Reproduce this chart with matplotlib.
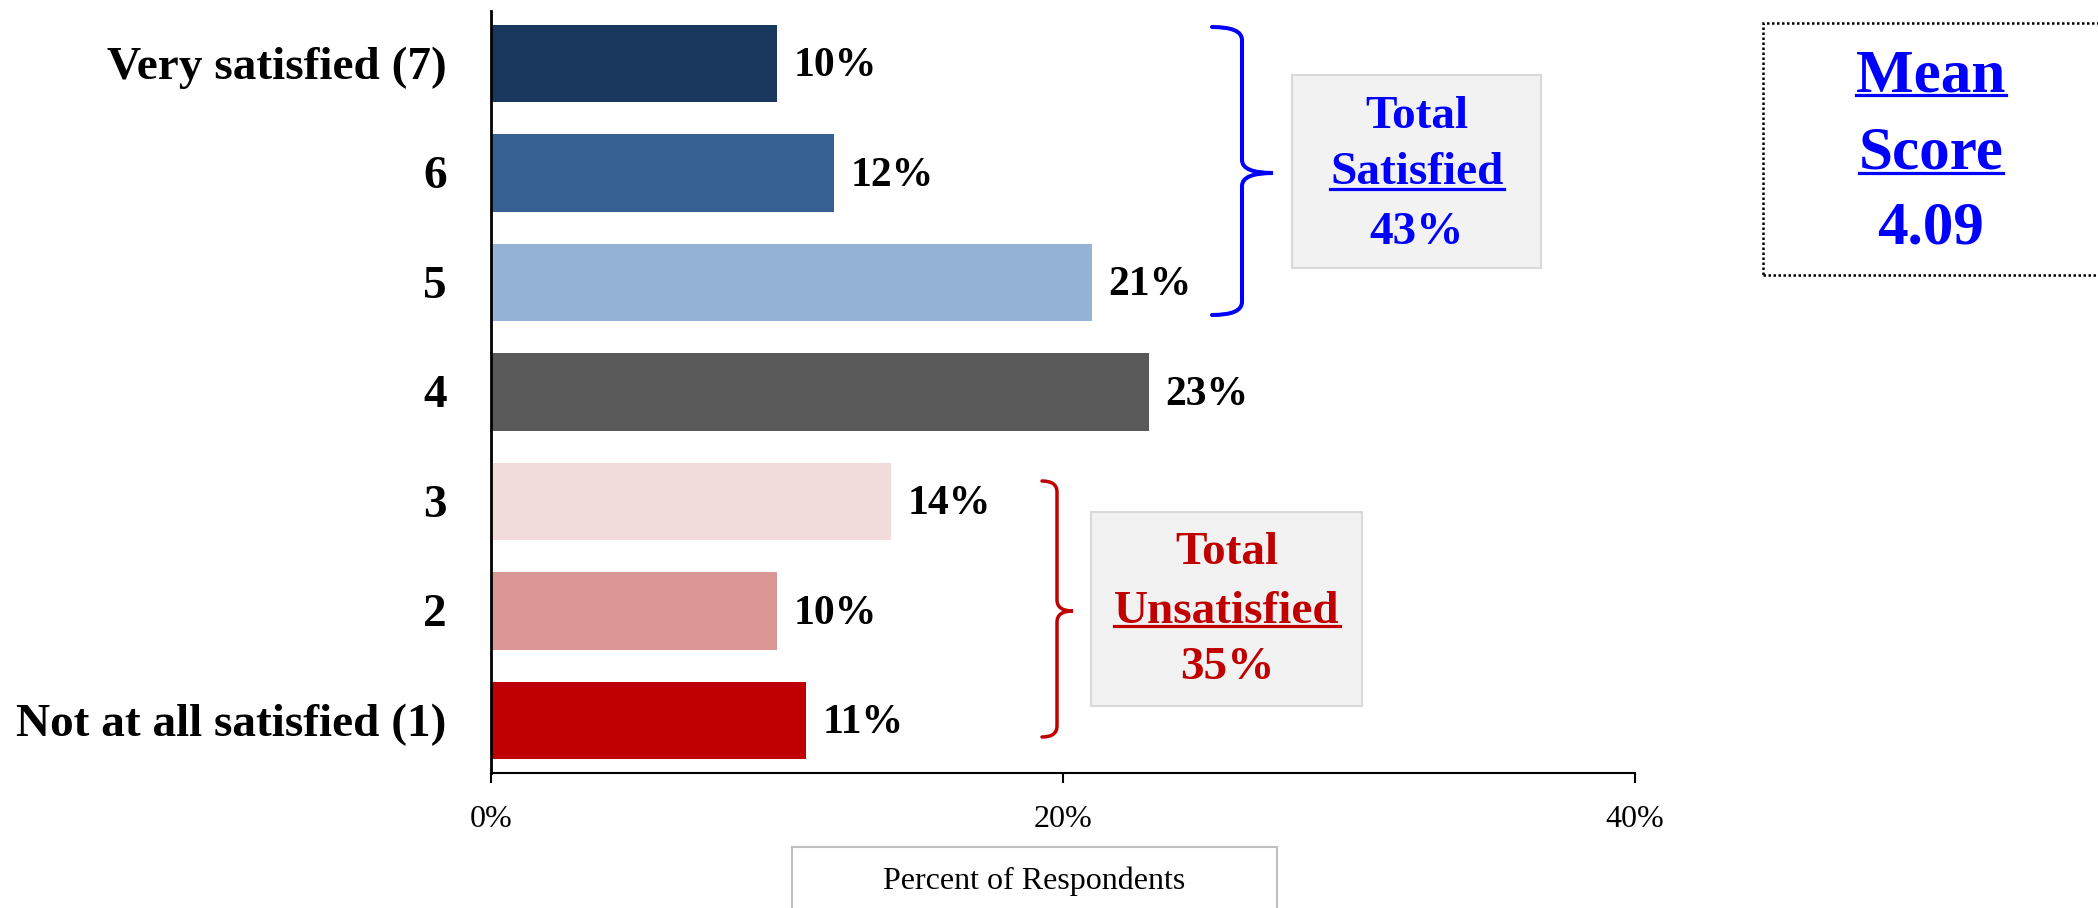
import matplotlib
matplotlib.use("Agg")
import matplotlib.pyplot as plt
from matplotlib.patches import Rectangle, PathPatch
from matplotlib.path import Path
from matplotlib.lines import Line2D

categories = ["Very satisfied (7)", "6", "5", "4", "3", "2", "Not at all satisfied (1)"]
values = [10, 12, 21, 23, 14, 10, 11]
colors = ["#1A375E", "#366092", "#95B3D7", "#595959", "#F2DCDB", "#D99694", "#C00000"]
xticks = [0, 20, 40]
xtick_labels = ["0%", "20%", "40%"]
total_satisfied = "43%"
total_unsatisfied = "35%"
mean_score = "4.09"

W, H = 2098, 908
SERIF = "Liberation Serif"

fig = plt.figure(figsize=(W / 100, H / 100), dpi=100)
ax = fig.add_axes([491 / W, 1 - 773 / H, (1635 - 491) / W, (773 - 11) / H])

ypos = list(range(len(categories)))[::-1]
ax.barh(ypos, values, height=0.71, color=colors, zorder=2)
ax.set_xlim(0, 40)
ax.set_ylim(-0.48, 6.48)

for y, v in zip(ypos, values):
    ax.annotate(f"{v}%", (v, y), xytext=(12, -2), textcoords="offset points",
                va="center", ha="left", fontsize=30, fontweight="bold",
                family=SERIF, color="black")

# category labels, drawn as text so they can sit a touch lower than the tick
ax.set_yticks(ypos)
ax.set_yticklabels([])
ax.tick_params(axis="y", length=0)
for y, c in zip(ypos, categories):
    ax.annotate(c, (0, y), xytext=(-32, -3), textcoords="offset points",
                va="center", ha="right", fontsize=34, fontweight="bold",
                family=SERIF, color="black", annotation_clip=False)

ax.set_xticks(xticks)
ax.set_xticklabels(xtick_labels, fontsize=23, family=SERIF)
ax.tick_params(axis="x", length=7, width=1.5, pad=16, direction="out")

for s in ["top", "right"]:
    ax.spines[s].set_visible(False)
ax.spines["left"].set_linewidth(2)
ax.spines["bottom"].set_linewidth(1.5)


def fx(x):
    return x / W


def fy(y):
    return 1 - y / H


def box(x0, y0, x1, y1, fc, ec, lw=1.5, ls="-"):
    fig.add_artist(Rectangle((fx(x0), fy(y1)), fx(x1 - x0), (y1 - y0) / H,
                             transform=fig.transFigure, facecolor=fc,
                             edgecolor=ec, linewidth=lw, linestyle=ls))


def brace(x0, x1, x2, top, mid, bot, r, color, lw):
    pts = [(x0, top), (x1, top), (x1, top + r),
           (x1, mid - r), (x1, mid), (x2, mid),
           (x1, mid), (x1, mid + r),
           (x1, bot - r), (x1, bot), (x0, bot)]
    codes = [Path.MOVETO, Path.CURVE3, Path.CURVE3,
             Path.LINETO, Path.CURVE3, Path.CURVE3,
             Path.CURVE3, Path.CURVE3,
             Path.LINETO, Path.CURVE3, Path.CURVE3]
    path = Path([(fx(a), fy(b)) for a, b in pts], codes)
    fig.add_artist(PathPatch(path, transform=fig.transFigure, fill=False,
                             edgecolor=color, linewidth=lw, capstyle="round"))


underlines = []


def label(x, y, s, color, size, ul=None):
    # shift down a bit so the glyphs, not the descent box, sit on y
    t = fig.text(fx(x), fy(y + size * 0.15), s, ha="center", va="center",
                 fontsize=size, fontweight="bold", family=SERIF, color=color)
    if ul is not None:
        underlines.append((t, y + ul, color))
    return t


# satisfied group
brace(1212, 1242, 1273, 27, 173, 315, 13, "#0000FF", 2.9)
box(1292, 75, 1541, 268, "#F2F2F2", "#D9D9D9")
label(1417, 112, "Total", "#0000FF", 34)
label(1417, 168, "Satisfied", "#0000FF", 34, ul=21)
label(1417, 228, total_satisfied, "#0000FF", 34)

# unsatisfied group
brace(1042, 1057, 1073, 481, 611, 737, 11, "#C00000", 2.5)
box(1091, 512, 1362, 706, "#F2F2F2", "#D9D9D9")
label(1227, 548, "Total", "#C00000", 34)
label(1227, 607, "Unsatisfied", "#C00000", 34, ul=19)
label(1227, 663, total_unsatisfied, "#C00000", 34)

# mean score
box(1763, 23, 2140, 275, "white", "black", lw=1.8, ls=(0, (1, 1)))
label(1931, 70, "Mean", "#0000FF", 44, ul=25)
label(1931, 147, "Score", "#0000FF", 44, ul=26)
label(1931, 222, mean_score, "#0000FF", 44)

# x axis title
box(792, 847, 1277, 930, "white", "#BFBFBF")
fig.text(fx(1034), fy(881), "Percent of Respondents", ha="center", va="center",
         fontsize=23, family=SERIF, color="black")

fig.canvas.draw()
renderer = fig.canvas.get_renderer()
for t, yu, c in underlines:
    bb = t.get_window_extent(renderer)
    fig.add_artist(Line2D([bb.x0 / W, bb.x1 / W], [fy(yu), fy(yu)],
                          transform=fig.transFigure, color=c, linewidth=2.3))

fig.savefig("out.png", dpi=100)
